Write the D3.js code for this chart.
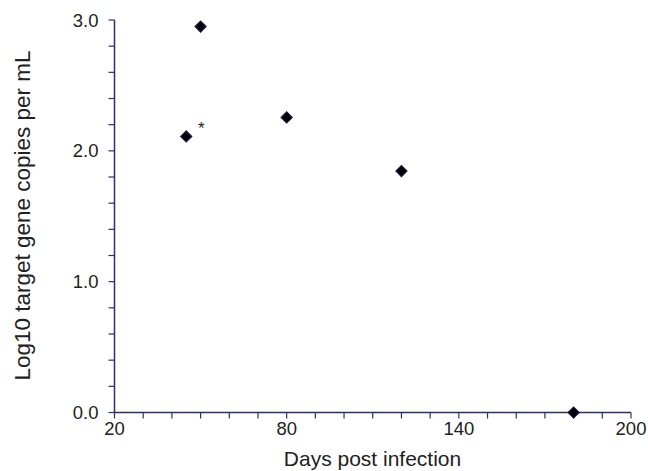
<!DOCTYPE html>
<html><head><meta charset="utf-8">
<script src="https://cdn.jsdelivr.net/npm/d3@7"></script>
<style>body{margin:0;background:#fff}</style>
</head><body>
<svg id="c" width="648" height="471"></svg>
<script>
const days = [45, 50, 80, 120, 180];
const logCopies = [2.11, 2.95, 2.255, 1.845, 0.0];
const annotations = [{day: 45, value: 2.11, text: "*"}];
const xTicks = [20, 80, 140, 200];
const yTicks = [0, 1, 2, 3];

const svg = d3.select("#c");
const x = d3.scaleLinear().domain([20, 200]).range([114.5, 631]);
const y = d3.scaleLinear().domain([0, 3]).range([412.5, 20]);
const axisColor = "#2e2e6e";
const font = "Arial, 'Liberation Sans', sans-serif";

// x axis
const xMinor = d3.range(20, 201, 10);
const gx = svg.append("g").attr("transform", `translate(0,${y(0)})`);
gx.append("line").attr("x1", x(20)).attr("x2", x(200)).attr("stroke", axisColor).attr("stroke-width", 1.5);
gx.selectAll("line.t").data(xMinor).join("line").attr("class","t")
  .attr("x1", d => x(d)).attr("x2", d => x(d)).attr("y1", 0).attr("y2", 6)
  .attr("stroke", axisColor).attr("stroke-width", 1.2);
gx.selectAll("text").data(xTicks).join("text")
  .attr("x", d => x(d)).attr("y", 22).attr("text-anchor", "middle")
  .attr("font-family", font).attr("font-size", 18.5).attr("fill", "#222")
  .text(d => d);

// y axis
const yMinor = d3.range(0, 3.0001, 0.2);
const gy = svg.append("g").attr("transform", `translate(${x(20)},0)`);
gy.append("line").attr("y1", y(0)).attr("y2", y(3)).attr("stroke", axisColor).attr("stroke-width", 1.5);
gy.selectAll("line.t").data(yMinor).join("line").attr("class","t")
  .attr("y1", d => y(d)).attr("y2", d => y(d)).attr("x1", 0).attr("x2", -6)
  .attr("stroke", axisColor).attr("stroke-width", 1.2);
gy.selectAll("text").data(yTicks).join("text")
  .attr("x", -16).attr("y", d => y(d)).attr("dy", "0.36em").attr("text-anchor", "end")
  .attr("font-family", font).attr("font-size", 18.5).attr("fill", "#222")
  .text(d => d.toFixed(1));

// titles
svg.append("text").attr("x", 372.5).attr("y", 466).attr("text-anchor", "middle")
  .attr("font-family", font).attr("font-size", 21).attr("fill", "#222").text("Days post infection");
svg.append("text").attr("transform", "translate(29.5,215.5) rotate(-90)").attr("text-anchor", "middle")
  .attr("font-family", font).attr("font-size", 22.5).attr("fill", "#222").text("Log10 target gene copies per mL");

// points
const sym = d3.symbol().type(d3.symbolSquare).size(64);
svg.selectAll("path.pt").data(days.map((d, i) => [d, logCopies[i]])).join("path").attr("class","pt")
  .attr("d", sym)
  .attr("transform", d => `translate(${x(d[0])},${y(d[1])}) rotate(45)`)
  .attr("fill", "#000").attr("stroke", "#1a1a55").attr("stroke-width", 1);

// annotation
svg.selectAll("text.ann").data(annotations).join("text").attr("class","ann")
  .attr("x", d => x(d.day) + 15).attr("y", d => y(d.value) - 2)
  .attr("text-anchor", "middle").attr("font-family", font).attr("font-size", 17).attr("fill", "#222")
  .text(d => d.text);
</script>
</body></html>
